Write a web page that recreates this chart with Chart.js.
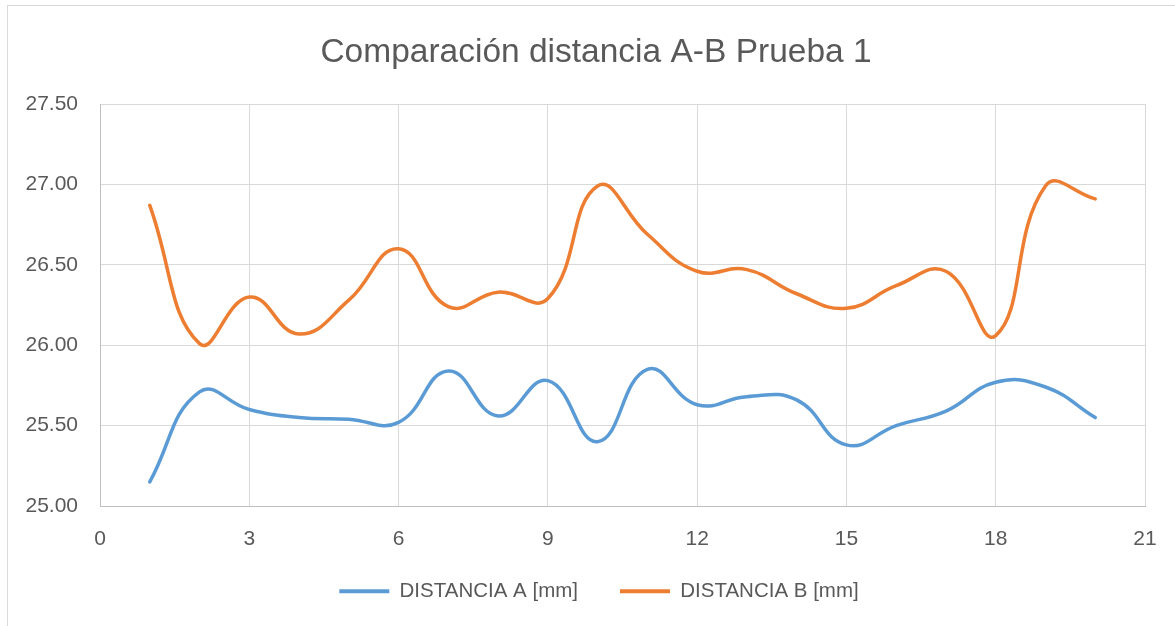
<!DOCTYPE html>
<html lang="es">
<head>
<meta charset="utf-8">
<title>Comparación distancia A-B Prueba 1</title>
<script src="https://cdn.jsdelivr.net/npm/chart.js@4.4.1/dist/chart.umd.min.js"></script>
<style>
  html, body { margin: 0; padding: 0; background: #ffffff; }
  #wrap { position: relative; width: 1175px; height: 626px; }
</style>
</head>
<body>
<div id="wrap"><canvas id="chart" width="1175" height="626"></canvas></div>
<script>
// Test number (x) for each measurement
const muestras = [1, 2, 3, 4, 5, 6, 7, 8, 9, 10, 11, 12, 13, 14, 15, 16, 17, 18, 19, 20];

// Measured distances, in mm
const distanciaA = [25.15, 25.71, 25.60, 25.55, 25.54, 25.52, 25.84, 25.56, 25.78, 25.40,
                    25.85, 25.63, 25.68, 25.66, 25.38, 25.50, 25.59, 25.77, 25.74, 25.55];
const distanciaB = [26.87, 26.01, 26.30, 26.07, 26.28, 26.60, 26.24, 26.33, 26.29, 26.99,
                    26.69, 26.46, 26.47, 26.32, 26.23, 26.37, 26.46, 26.06, 26.99, 26.91];

const seriesNames = ['DISTANCIA A [mm]', 'DISTANCIA B [mm]'];
const titulo = 'Comparación distancia A-B Prueba 1';

// Axis ranges and tick steps
const xRange = [0, 21];
const xStep = 3;
const yRange = [25.0, 27.5];
const yStep = 0.5;

const FONT = "'Liberation Sans', Arial, sans-serif";
const TEXT = '#595959';
const GRID = '#D9D9D9';
const AXIS = '#BFBFBF';
const BLUE = '#5B9BD5';
const ORANGE = '#ED7D31';

const toPoints = vals => muestras.map((x, i) => ({ x: x, y: vals[i] }));

// Light frame around the whole chart
const framePlugin = {
  id: 'frame',
  beforeDraw(chart) {
    const ctx = chart.ctx;
    ctx.save();
    ctx.fillStyle = '#ffffff';
    ctx.fillRect(0, 0, chart.width, chart.height);
    ctx.strokeStyle = GRID;
    ctx.lineWidth = 1;
    ctx.strokeRect(7.5, 5.5, chart.width + 10, chart.height + 10);
    ctx.restore();
  }
};

// Nudge the title and legend blocks so they sit centred over the whole frame
const TITLE_SHIFT_X = 23.5;
const LEGEND_SHIFT_X = 26.5;
const LEGEND_SHIFT_Y = -27;
const placePlugin = {
  id: 'place',
  afterLayout(chart) {
    const t = chart.titleBlock;
    if (t) { t.left += TITLE_SHIFT_X; t.right += TITLE_SHIFT_X; }
    const l = chart.legend;
    if (l) {
      l.left += LEGEND_SHIFT_X; l.right += LEGEND_SHIFT_X;
      l.top += LEGEND_SHIFT_Y;   // bottom edge stays put so nothing is clipped
    }
  }
};

const PAD_RIGHT = 30;
const Y_AXIS_WIDTH = 100;
const X_AXIS_HEIGHT = 60;

new Chart(document.getElementById('chart'), {
  type: 'line',
  data: {
    datasets: [
      {
        label: seriesNames[0],
        data: toPoints(distanciaA),
        borderColor: BLUE,
        backgroundColor: BLUE,
        borderWidth: 3.5,
        borderCapStyle: 'round',
        borderJoinStyle: 'round',
        pointRadius: 0,
        pointHoverRadius: 0,
        tension: 0.45,
        fill: false
      },
      {
        label: seriesNames[1],
        data: toPoints(distanciaB),
        borderColor: ORANGE,
        backgroundColor: ORANGE,
        borderWidth: 3.5,
        borderCapStyle: 'round',
        borderJoinStyle: 'round',
        pointRadius: 0,
        pointHoverRadius: 0,
        tension: 0.45,
        fill: false
      }
    ]
  },
  options: {
    responsive: false,
    animation: false,
    devicePixelRatio: 1,
    layout: { padding: { left: 0, right: PAD_RIGHT, top: 0, bottom: 0 } },
    plugins: {
      title: {
        display: true,
        text: titulo,
        color: TEXT,
        font: { family: FONT, size: 33.5, weight: 'normal', lineHeight: 1.2 },
        padding: { top: 33, bottom: 30.8 }
      },
      legend: {
        display: true,
        position: 'bottom',
        maxHeight: 60,
        labels: {
          color: TEXT,
          font: { family: FONT, size: 20.5 },
          boxWidth: 50,
          boxHeight: 4,
          padding: 42,
          generateLabels(chart) {
            const items = Chart.defaults.plugins.legend.labels.generateLabels(chart);
            items.forEach(it => { it.lineWidth = 0; });
            return items;
          }
        }
      },
      tooltip: { enabled: false }
    },
    scales: {
      x: {
        type: 'linear',
        min: xRange[0],
        max: xRange[1],
        grid: { color: GRID, lineWidth: 1, drawTicks: false },
        border: { color: AXIS, width: 1 },
        ticks: {
          stepSize: xStep,
          color: TEXT,
          font: { family: FONT, size: 21, lineHeight: 1.5 },
          padding: 17,
          maxRotation: 0
        },
        afterFit(scale) { scale.height = X_AXIS_HEIGHT; }
      },
      y: {
        type: 'linear',
        min: yRange[0],
        max: yRange[1],
        grid: { color: GRID, lineWidth: 1, drawTicks: false },
        border: { color: AXIS, width: 1 },
        ticks: {
          stepSize: yStep,
          color: TEXT,
          font: { family: FONT, size: 21 },
          padding: 22,
          callback: v => Number(v).toFixed(2)
        },
        afterFit(scale) { scale.width = Y_AXIS_WIDTH; }
      }
    }
  },
  plugins: [framePlugin, placePlugin]
});
</script>
</body>
</html>
